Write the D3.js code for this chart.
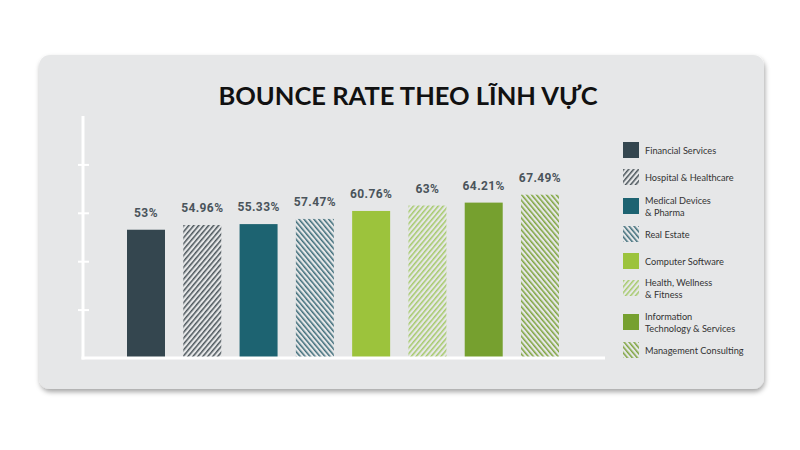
<!DOCTYPE html>
<html>
<head>
<meta charset="utf-8">
<script src="https://cdn.jsdelivr.net/npm/d3@7/dist/d3.min.js"></script>
<style>
  body { margin: 0; background: #ffffff; }
  svg { display: block; }
</style>
</head>
<body>
<svg id="svg" width="800" height="450"></svg>
<script>
const title = 'BOUNCE RATE THEO LĨNH VỰC'
const categories = [
    'Financial Services',
    'Hospital & Healthcare',
    'Medical Devices & Pharma',
    'Real Estate',
    'Computer Software',
    'Health, Wellness & Fitness',
    'Information Technology & Services',
    'Management Consulting',
]
const values = [53, 54.96, 55.33, 57.47, 60.76, 63, 64.21, 67.49]
const valueLabels = ['53%', '54.96%', '55.33%', '57.47%', '60.76%', '63%', '64.21%', '67.49%']
const legendLines = [
    ['Financial Services'],
    ['Hospital  & Healthcare'],
    ['Medical Devices', '& Pharma'],
    ['Real Estate'],
    ['Computer Software'],
    ['Health, Wellness', '& Fitness'],
    ['Information', 'Technology & Services'],
    ['Management Consulting'],
]
const yTicks = [20, 40, 60, 80]

// fill style per category: solid colour or hatch
const styles = [
    { color: '#34464f', hatch: null },
    { color: '#4b555b', hatch: 'up' },
    { color: '#1d6371', hatch: null },
    { color: '#3f6d7a', hatch: 'down' },
    { color: '#9cc33c', hatch: null },
    { color: '#a6ca6b', hatch: 'up' },
    { color: '#76a02f', hatch: null },
    { color: '#7ea43e', hatch: 'down' },
]

const drawChart = () => {
    const svg = d3.select('#svg')
    const margin = { top: 116, bottom: 358, left: 83, right: 605 }

    const defs = svg.append('defs')
    const shadow = defs.append('filter').attr('id', 'shadow')
        .attr('x', '-5%').attr('y', '-5%').attr('width', '110%').attr('height', '115%')
    shadow.append('feDropShadow')
        .attr('dx', 1).attr('dy', 3).attr('stdDeviation', 2.5)
        .attr('flood-color', '#000').attr('flood-opacity', 0.35)

    // hatch patterns
    styles.forEach((s, i) => {
        if (!s.hatch) return
        const p = defs.append('pattern')
            .attr('id', `hatch-${i}`)
            .attr('patternUnits', 'userSpaceOnUse')
            .attr('width', 3.8)
            .attr('height', 3.8)
            .attr('patternTransform', `rotate(${s.hatch === 'up' ? 40 : -40})`)
        p.append('rect')
            .attr('x', 0).attr('y', 0)
            .attr('width', 1.5).attr('height', 3.8)
            .attr('fill', s.color)
    })
    const fillFor = (i) => styles[i].hatch ? `url(#hatch-${i})` : styles[i].color

    // Card
    svg.append('rect')
        .attr('x', 39).attr('y', 55)
        .attr('width', 725).attr('height', 334)
        .attr('rx', 11)
        .attr('fill', '#e6e7e8')
        .attr('filter', 'url(#shadow)')

    svg.append('text')
        .attr('x', 408)
        .attr('y', 105)
        .attr('text-anchor', 'middle')
        .attr('font-family', 'Lato, "Open Sans", sans-serif')
        .attr('font-weight', 700)
        .attr('font-size', 25.5)
        .attr('fill', '#111')
        .text(title)

    // Scales
    const xScale = d3.scaleBand()
        .domain(categories)
        .range([127, 559])
        .paddingInner(0.325)
        .paddingOuter(0)

    const yScale = d3.scaleLinear()
        .domain([0, 100])
        .range([margin.bottom, margin.top])

    // Bars
    svg.append('g')
        .selectAll('rect')
        .data(values)
        .join('rect')
        .attr('x', (d, i) => xScale(categories[i]))
        .attr('y', (d) => yScale(d))
        .attr('width', xScale.bandwidth())
        .attr('height', (d) => yScale(0) - yScale(d))
        .attr('fill', (d, i) => fillFor(i))

    svg.append('g')
        .selectAll('text')
        .data(values)
        .join('text')
        .attr('x', (d, i) => xScale(categories[i]) + xScale.bandwidth() / 2)
        .attr('y', (d) => yScale(d) - 13)
        .attr('text-anchor', 'middle')
        .attr('font-family', 'Roboto, sans-serif')
        .attr('font-weight', 700)
        .attr('font-size', 12)
        .attr('letter-spacing', 0.4)
        .attr('fill', '#4a545b')
        .text((d, i) => valueLabels[i])

    // Axis (white lines)
    const yAxis = svg.append('g')
        .attr('transform', `translate(${margin.left},0)`)
        .call(d3.axisLeft(yScale).tickValues(yTicks).tickSize(0).tickFormat(''))
    yAxis.select('.domain').remove()
    yAxis.selectAll('.tick line').remove()
    yAxis.selectAll('.tick').append('line')
        .attr('x1', -5).attr('x2', 6)
        .attr('stroke', '#fff').attr('stroke-width', 2)

    svg.append('line')
        .attr('x1', margin.left).attr('x2', margin.left)
        .attr('y1', yScale(100)).attr('y2', yScale(0) + 1.5)
        .attr('stroke', '#fff').attr('stroke-width', 3)
    svg.append('line')
        .attr('x1', margin.left - 1.5).attr('x2', margin.right)
        .attr('y1', yScale(0)).attr('y2', yScale(0))
        .attr('stroke', '#fff').attr('stroke-width', 3)

    // Legend
    const legendTops = [142, 169, 198, 226, 253, 280, 314, 342]
    const legend = svg.append('g')
        .selectAll('g')
        .data(categories)
        .join('g')
        .attr('transform', (d, i) => `translate(623,${legendTops[i]})`)
    legend.append('rect')
        .attr('width', 16).attr('height', 16)
        .attr('fill', (d, i) => fillFor(i))
    legend.append('text')
        .attr('font-family', 'Lato, "Open Sans", sans-serif')
        .attr('font-size', 9.2)
        .attr('fill', '#333')
        .each(function(d, i) {
            const lines = legendLines[i]
            const t = d3.select(this)
            const y0 = lines.length === 1 ? 11.5 : 6
            lines.forEach((l, j) => {
                t.append('tspan')
                    .attr('x', 22)
                    .attr('y', y0 + j * 12)
                    .text(l)
            })
        })
}

drawChart()
</script>
</body>
</html>
